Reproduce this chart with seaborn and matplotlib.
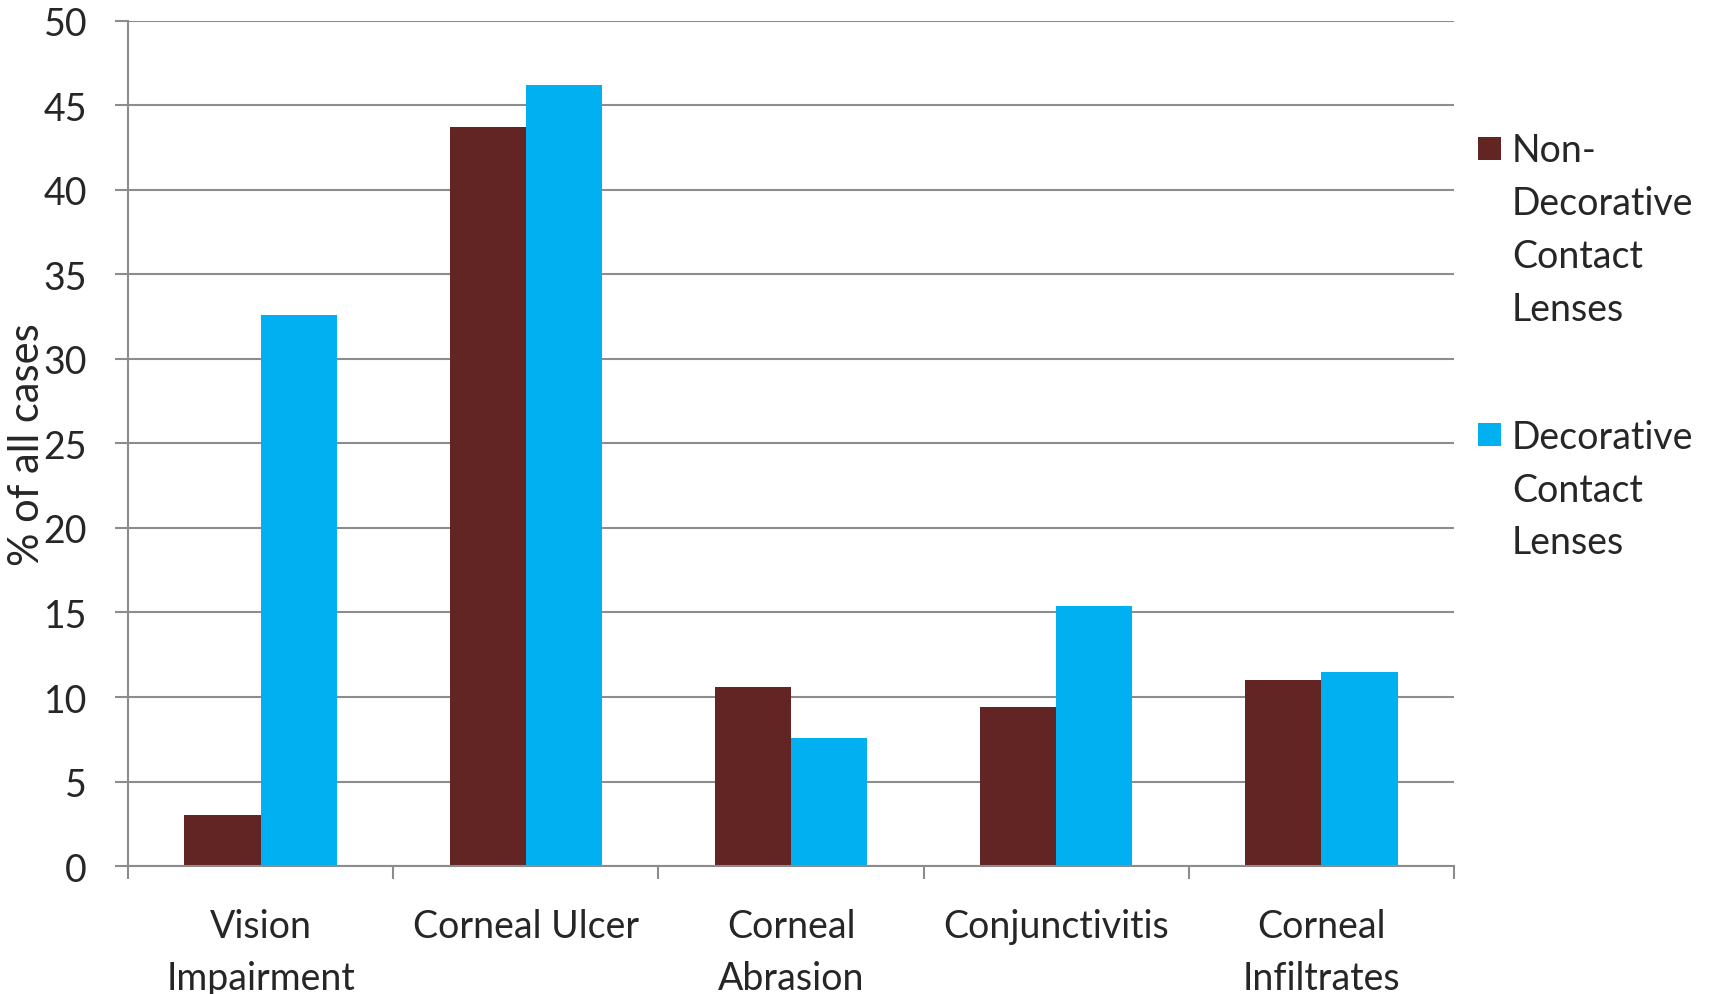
import matplotlib
matplotlib.use("Agg")
import matplotlib.pyplot as plt
from matplotlib.patches import Rectangle
import seaborn as sns
import pandas as pd

categories = ["Vision\nImpairment", "Corneal Ulcer", "Corneal\nAbrasion",
              "Conjunctivitis", "Corneal\nInfiltrates"]
series_names = ["Non-\nDecorative\nContact\nLenses", "Decorative\nContact\nLenses"]
non_decorative = [3.0, 43.7, 10.6, 9.4, 11.0]
decorative = [32.6, 46.2, 7.6, 15.4, 11.5]
colors = ["#632523", "#00B0F0"]
y_ticks = [0, 5, 10, 15, 20, 25, 30, 35, 40, 45, 50]

df = pd.DataFrame({
    "category": categories * 2,
    "series": [series_names[0]] * 5 + [series_names[1]] * 5,
    "value": non_decorative + decorative,
})

sns.set_style("white")
plt.rcParams["font.family"] = ["Lato", "DejaVu Sans"]

fig = plt.figure(figsize=(17.1, 9.95), dpi=100)
ax = fig.add_axes([0.0749, 0.1286, 0.7754, 0.8494])

sns.barplot(data=df, x="category", y="value", hue="series", order=categories,
            hue_order=series_names, palette=colors, width=0.575, gap=0,
            saturation=1, edgecolor="none", linewidth=0, ax=ax, legend=False)

grid_color = "#8c8c8c"
ax.set_ylim(0, 50)
ax.set_xlim(-0.5, 4.5)
ax.set_yticks(y_ticks)
ax.yaxis.grid(True, color=grid_color, linewidth=1.5)
ax.set_axisbelow(True)
for side in ["top", "right"]:
    ax.spines[side].set_visible(False)
for side in ["left", "bottom"]:
    ax.spines[side].set_color(grid_color)
    ax.spines[side].set_linewidth(1.5)

ax.tick_params(axis="y", left=True, length=9.5, width=1.5, color=grid_color,
               labelsize=27, pad=20)
ax.tick_params(axis="x", which="major", bottom=True, length=0, labelsize=27, pad=30)
ax.set_xticks([i - 0.5 for i in range(6)], minor=True)
ax.tick_params(axis="x", which="minor", bottom=True, length=9.5, width=1.5, color=grid_color)
for lab in ax.get_xticklabels():
    lab.set_linespacing(1.55)

ax.set_xlabel("")
ax.set_ylabel("% of all cases", fontsize=30)
ax.yaxis.set_label_coords(-0.062, 0.5)

# legend: square marker aligned with the first line of each label
legend_items = [(series_names[0], colors[0], 0.850), (series_names[1], colors[1], 0.562)]
for label, color, y_mid in legend_items:
    fig.patches.append(Rectangle((1478 / 1710, y_mid - 11.5 / 995), 23 / 1710, 23 / 995,
                                 transform=fig.transFigure, facecolor=color,
                                 edgecolor="none"))
    fig.text(1512 / 1710, y_mid + 16 / 995, label, fontsize=27, va="top", ha="left",
             linespacing=1.58)

fig.savefig("out.png", dpi=100)
